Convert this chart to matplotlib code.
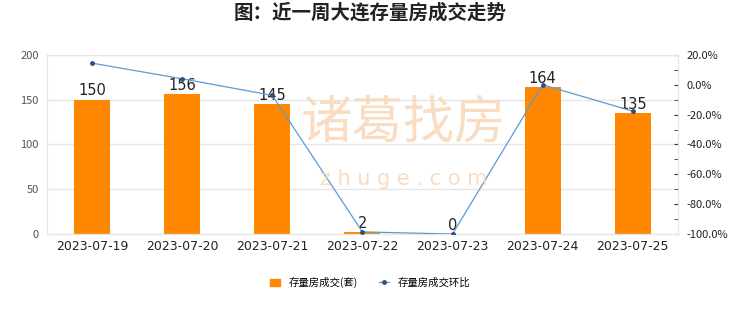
import matplotlib
matplotlib.use("Agg")
import matplotlib.pyplot as plt
from matplotlib.ticker import MultipleLocator, FuncFormatter
from matplotlib.lines import Line2D
from matplotlib.patches import Patch

plt.rcParams['font.family'] = ['Noto Sans CJK SC', 'DejaVu Sans']

dates = ["2023-07-19", "2023-07-20", "2023-07-21", "2023-07-22",
         "2023-07-23", "2023-07-24", "2023-07-25"]
volume = [150, 156, 145, 2, 0, 164, 135]
mom_pct = [14.5, 4.0, -7.1, -98.6, -100.0, 0.0, -17.7]

bar_color = "#FF8800"
line_color = "#5B9BD5"
marker_color = "#2F4F7F"

fig = plt.figure(figsize=(7.4, 3.12), dpi=100)
ax = fig.add_axes([0.0635, 0.25, 0.8525, 0.574])
x = list(range(len(dates)))

ax.bar(x, volume, width=0.4, color=bar_color, zorder=2)
for xi, v in zip(x, volume):
    ax.text(xi, v + 1.5, str(v), ha='center', va='bottom', fontsize=10.5,
            color='#222222', zorder=5, family=['DejaVu Sans'])

ax.set_xlim(-0.5, len(dates) - 0.5)
ax.set_ylim(0, 200)
ax.yaxis.set_major_locator(MultipleLocator(50))
ax.set_xticks(x)
ax.set_xticklabels(dates, fontsize=9, color='#222222', family=['DejaVu Sans'])
ax.tick_params(axis='x', length=0, pad=4)
ax.tick_params(axis='y', length=0, labelsize=8, labelcolor='#555555', pad=6)
ax.grid(axis='y', color='#E6E6E6', linewidth=1, zorder=0)
for s in ax.spines.values():
    s.set_color('#E6E6E6')

ax2 = ax.twinx()
ax2.plot(x, mom_pct, color=line_color, linewidth=0.9, marker='o',
         markersize=2.5, markerfacecolor=marker_color,
         markeredgecolor=marker_color, zorder=4)
ax2.set_ylim(-100, 20)
ax2.yaxis.set_major_locator(MultipleLocator(20))
ax2.yaxis.set_minor_locator(MultipleLocator(10))
ax2.yaxis.set_major_formatter(FuncFormatter(lambda v, p: f"{v:.1f}%"))
ax2.tick_params(axis='y', which='both', direction='in', length=3,
                color='#333333', labelsize=8, labelcolor='#222222', pad=6)
for s in ax2.spines.values():
    s.set_color('#E6E6E6')

# watermark
fig.text(0.545, 0.605, "诸葛找房", fontsize=37, color='#F9D9BC', ha='center',
         va='center', alpha=0.9, zorder=0)
fig.text(0.545, 0.425, "z h u g e . c o m", fontsize=15, color='#F9D9BC', ha='center',
         va='center', alpha=0.9, zorder=0, family=['DejaVu Sans'])

fig.suptitle("图：近一周大连存量房成交走势", fontsize=14, fontweight='bold',
             x=0.5, y=0.99, color='#222222')

handles = [Patch(facecolor=bar_color, edgecolor=bar_color),
           Line2D([0], [0], color=line_color, lw=0.9, marker='o', markersize=2.5,
                  markerfacecolor=marker_color, markeredgecolor=marker_color)]
fig.legend(handles, ["存量房成交(套)", "存量房成交环比"], loc='center',
           bbox_to_anchor=(0.5, 0.095), ncol=2, frameon=False, fontsize=7.5,
           handlelength=1.0, handleheight=0.7, columnspacing=2.0)

fig.savefig("out.png", dpi=100)
